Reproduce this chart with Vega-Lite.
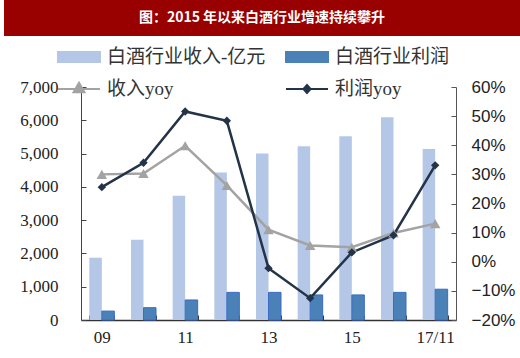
{
  "$schema": "https://vega.github.io/schema/vega-lite/v6.json",
  "padding": {"left": 4, "top": 0, "right": 0, "bottom": 0},
  "background": "white",
  "spacing": 51,
  "bounds": "flush",
  "config": {"view": {"stroke": null}},
  "resolve": {"scale": {"color": "independent", "shape": "independent"}, "legend": {"color": "independent", "shape": "independent"}},
  "datasets": {
    "bars": [
      {"year": "09", "series": "白酒行业收入-亿元", "value": 1870},
      {"year": "09", "series": "白酒行业利润", "value": 268},
      {"year": "10", "series": "白酒行业收入-亿元", "value": 2410},
      {"year": "10", "series": "白酒行业利润", "value": 370},
      {"year": "11", "series": "白酒行业收入-亿元", "value": 3735},
      {"year": "11", "series": "白酒行业利润", "value": 602},
      {"year": "12", "series": "白酒行业收入-亿元", "value": 4430},
      {"year": "12", "series": "白酒行业利润", "value": 830},
      {"year": "13", "series": "白酒行业收入-亿元", "value": 5000},
      {"year": "13", "series": "白酒行业利润", "value": 830},
      {"year": "14", "series": "白酒行业收入-亿元", "value": 5220},
      {"year": "14", "series": "白酒行业利润", "value": 753},
      {"year": "15", "series": "白酒行业收入-亿元", "value": 5520},
      {"year": "15", "series": "白酒行业利润", "value": 753},
      {"year": "16", "series": "白酒行业收入-亿元", "value": 6090},
      {"year": "16", "series": "白酒行业利润", "value": 830},
      {"year": "17/11", "series": "白酒行业收入-亿元", "value": 5140},
      {"year": "17/11", "series": "白酒行业利润", "value": 925}
    ],
    "lines": [
      {"year": "09", "series": "收入yoy", "value": 0.30},
      {"year": "10", "series": "收入yoy", "value": 0.303},
      {"year": "11", "series": "收入yoy", "value": 0.398},
      {"year": "12", "series": "收入yoy", "value": 0.262},
      {"year": "13", "series": "收入yoy", "value": 0.11},
      {"year": "14", "series": "收入yoy", "value": 0.056},
      {"year": "15", "series": "收入yoy", "value": 0.05},
      {"year": "16", "series": "收入yoy", "value": 0.099},
      {"year": "17/11", "series": "收入yoy", "value": 0.131},
      {"year": "09", "series": "利润yoy", "value": 0.256},
      {"year": "10", "series": "利润yoy", "value": 0.34},
      {"year": "11", "series": "利润yoy", "value": 0.516},
      {"year": "12", "series": "利润yoy", "value": 0.484},
      {"year": "13", "series": "利润yoy", "value": -0.022},
      {"year": "14", "series": "利润yoy", "value": -0.125},
      {"year": "15", "series": "利润yoy", "value": 0.032},
      {"year": "16", "series": "利润yoy", "value": 0.091},
      {"year": "17/11", "series": "利润yoy", "value": 0.331}
    ]
  },
  "vconcat": [
    {
      "width": 516,
      "height": 36,
      "view": {"fill": "#990000", "stroke": null},
      "data": {"values": [{"t": "图：2015 年以来白酒行业增速持续攀升"}]},
      "mark": {"type": "text", "color": "white", "font": "Noto Sans CJK SC", "fontSize": 14, "fontWeight": "bold", "baseline": "middle", "align": "center"},
      "encoding": {"text": {"field": "t", "type": "nominal"}}
    },
    {
      "bounds": "flush",
      "spacing": 0,
      "resolve": {"scale": {"color": "independent", "shape": "independent"}, "legend": {"color": "independent", "shape": "independent"}},
      "hconcat": [
        {
          "width": 77,
          "height": 10,
          "data": {"values": []},
          "mark": "point"
        },
        {
          "width": 375,
          "height": 233,
          "layer": [
            {
              "data": {"name": "bars"},
              "mark": {"type": "bar", "strokeWidth": 1},
              "encoding": {
                "x": {
                  "field": "year", "type": "nominal",
                  "sort": ["09","10","11","12","13","14","15","16","17/11"],
                  "scale": {"paddingInner": 0.4, "paddingOuter": 0.2},
                  "axis": {
                    "title": null, "labelAngle": 0, "tickBand": "extent", "tickSize": -5,
                    "labelExpr": "indexof(['09','11','13','15','17/11'], datum.value) >= 0 ? datum.value : ''",
                    "labelFont": "Liberation Serif", "labelFontSize": 17, "labelColor": "#222",
                    "labelPadding": 14, "domainColor": "#333", "tickColor": "#333", "domainWidth": 1.5
                  }
                },
                "xOffset": {"field": "series", "type": "nominal", "sort": ["白酒行业收入-亿元", "白酒行业利润"], "scale": {"paddingInner": 0}},
                "y": {
                  "field": "value", "type": "quantitative",
                  "scale": {"domain": [0, 7000], "nice": false},
                  "axis": {
                    "title": null, "orient": "left", "grid": false, "values": [0,1000,2000,3000,4000,5000,6000,7000],
                    "format": ",.0f", "tickSize": -5, "labelPadding": 28,
                    "labelFont": "Liberation Serif", "labelFontSize": 17, "labelColor": "#222",
                    "domainColor": "#444", "tickColor": "#444"
                  }
                },
                "color": {
                  "field": "series", "type": "nominal",
                  "scale": {
                    "domain": ["白酒行业收入-亿元", "白酒行业利润", "收入yoy", "利润yoy"],
                    "range": ["#b4c7e7", "#4a82b8", "#a3a3a3", "#243448"]
                  },
                  "legend": {
                    "orient": "none", "legendX": -24, "legendY": -52, "padding": 0,
                    "columns": 2, "direction": "horizontal", "title": null,
                    "symbolSize": 1764, "symbolStrokeWidth": 2, "symbolOpacity": 1,
                    "labelFont": "Liberation Serif, Noto Sans CJK SC", "labelFontSize": 19, "labelColor": "#333",
                    "labelOffset": 6, "columnPadding": 16, "rowPadding": -6, "labelLimit": 400
                  }
                },
                "stroke": {
                  "condition": {"test": "datum.series === '白酒行业利润'", "value": "#3a6bc9"},
                  "value": null
                }
              }
            },
            {
              "data": {"name": "lines"},
              "mark": {"type": "line", "strokeWidth": 2.5},
              "encoding": {
                "x": {"field": "year", "type": "nominal", "sort": ["09","10","11","12","13","14","15","16","17/11"]},
                "y": {
                  "field": "value", "type": "quantitative",
                  "scale": {"domain": [-0.2, 0.6], "nice": false},
                  "axis": {
                    "title": null, "orient": "right", "grid": false,
                    "values": [-0.2,-0.1,0,0.1,0.2,0.3,0.4,0.5,0.6],
                    "format": ".0%", "tickSize": -5, "labelPadding": 20,
                    "labelFont": "Liberation Sans", "labelFontSize": 17, "labelColor": "#222",
                    "domainColor": "#555", "tickColor": "#555"
                  }
                },
                "color": {"field": "series", "type": "nominal"}
              }
            },
            {
              "data": {"name": "lines"},
              "mark": {"type": "point", "filled": true, "opacity": 1},
              "encoding": {
                "x": {"field": "year", "type": "nominal", "sort": ["09","10","11","12","13","14","15","16","17/11"]},
                "y": {"field": "value", "type": "quantitative", "scale": {"domain": [-0.2, 0.6], "nice": false}, "axis": null},
                "shape": {
                  "condition": {"test": "datum.series === '收入yoy'", "value": "triangle-up"},
                  "value": "diamond"
                },
                "size": {
                  "condition": {"test": "datum.series === '收入yoy'", "value": 110},
                  "value": 70
                },
                "color": {"field": "series", "type": "nominal"}
              }
            },
            {
              "data": {"name": "lines"},
              "transform": [{"filter": "false"}],
              "mark": {"type": "point", "filled": true, "opacity": 1},
              "encoding": {
                "x": {"field": "year", "type": "nominal", "sort": ["09","10","11","12","13","14","15","16","17/11"]},
                "y": {"field": "value", "type": "quantitative", "scale": {"domain": [-0.2, 0.6], "nice": false}, "axis": null},
                "color": {"field": "series", "type": "nominal"},
                "shape": {
                  "field": "series", "type": "nominal",
                  "scale": {
                    "domain": ["白酒行业收入-亿元", "白酒行业利润", "收入yoy", "利润yoy"],
                    "range": ["M-1,-0.24H1V0.24H-1Z", "M-1,-0.24H1V0.24H-1Z", "M-1,0H1M0,-0.3L0.26,0.16L-0.26,0.16Z", "M-1,0H1M0,-0.19L0.17,0L0,0.19L-0.17,0Z"]
                  },
                  "legend": {
                    "orient": "none", "legendX": -24, "legendY": -52, "padding": 0,
                    "columns": 2, "direction": "horizontal", "title": null,
                    "symbolSize": 1764, "symbolStrokeWidth": 2, "symbolOpacity": 1,
                    "labelFont": "Liberation Serif, Noto Sans CJK SC", "labelFontSize": 19, "labelColor": "#333",
                    "labelOffset": 6, "columnPadding": 16, "rowPadding": -6, "labelLimit": 400
                  }
                }
              }
            }
          ],
          "resolve": {"scale": {"y": "independent"}}
        }
      ]
    }
  ]
}
